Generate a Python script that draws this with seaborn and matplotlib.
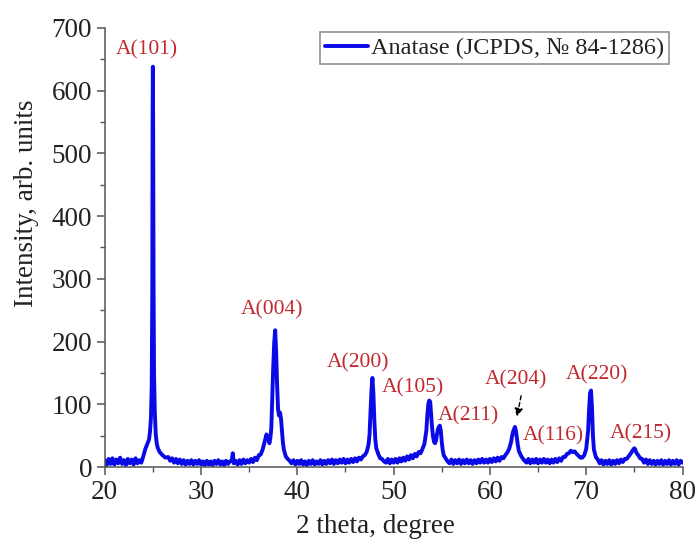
import matplotlib
matplotlib.use("Agg")
import matplotlib.pyplot as plt
from matplotlib.ticker import MultipleLocator
import seaborn as sns
import pandas as pd

# ---- data ----
two_theta = [
    20.0, 20.2, 20.4, 20.6, 20.8, 21.0, 21.2, 21.4, 21.6, 21.8, 22.0, 22.2, 22.4, 22.6, 22.8,
    23.0, 23.2, 23.4, 23.6, 23.8, 24.0, 24.2, 24.4, 24.6, 24.7, 24.8, 24.88, 24.94, 24.97,
    25.0, 25.03, 25.07, 25.12, 25.2, 25.3, 25.4, 25.5, 25.7, 26.0, 26.3, 26.6, 26.8,
    27.0, 27.2, 27.4, 27.6, 27.8, 28.0, 28.2, 28.4, 28.6, 28.8, 29.0, 29.2, 29.4, 29.6, 29.8,
    30.0, 30.2, 30.4, 30.6, 30.8, 31.0, 31.2, 31.4, 31.6, 31.8, 32.0, 32.2, 32.4, 32.6, 32.8,
    33.0, 33.2, 33.3, 33.4, 33.6, 33.8, 34.0, 34.2, 34.4, 34.6, 34.8, 35.0, 35.2, 35.4, 35.6,
    35.8, 36.0, 36.2, 36.4, 36.6, 36.8, 36.9, 37.0, 37.1, 37.2, 37.3, 37.4, 37.5, 37.6, 37.7,
    37.8, 37.9, 38.0, 38.1, 38.2, 38.3, 38.4, 38.5, 38.6, 38.8, 39.0, 39.2, 39.4, 39.6, 39.8,
    40.0, 40.2, 40.4, 40.6, 40.8, 41.0, 41.2, 41.4, 41.6, 41.8, 42.0, 42.2, 42.4, 42.6, 42.8,
    43.0, 43.2, 43.4, 43.6, 43.8, 44.0, 44.2, 44.4, 44.6, 44.8, 45.0, 45.2, 45.4, 45.6, 45.8,
    46.0, 46.2, 46.4, 46.6, 46.8, 47.0, 47.2, 47.4, 47.5, 47.6, 47.7, 47.8, 47.9, 48.0, 48.1,
    48.2, 48.4, 48.6, 48.8, 49.0, 49.2, 49.4, 49.6, 49.8, 50.0, 50.2, 50.4, 50.6, 50.8, 51.0,
    51.2, 51.4, 51.6, 51.8, 52.0, 52.2, 52.4, 52.6, 52.8, 53.0, 53.2, 53.4, 53.5, 53.6, 53.7,
    53.8, 53.9, 54.0, 54.1, 54.2, 54.3, 54.4, 54.5, 54.6, 54.7, 54.8, 54.9, 55.0, 55.1, 55.2,
    55.4, 55.6, 55.8, 56.0, 56.2, 56.4, 56.6, 56.8, 57.0, 57.2, 57.4, 57.6, 57.8, 58.0, 58.2,
    58.4, 58.6, 58.8, 59.0, 59.2, 59.4, 59.6, 59.8, 60.0, 60.2, 60.4, 60.6, 60.8, 61.0, 61.2,
    61.4, 61.6, 61.8, 62.0, 62.2, 62.3, 62.4, 62.5, 62.6, 62.7, 62.8, 62.9, 63.0, 63.2, 63.4,
    63.6, 63.8, 64.0, 64.2, 64.4, 64.6, 64.8, 65.0, 65.2, 65.4, 65.6, 65.8, 66.0, 66.2, 66.4,
    66.6, 66.8, 67.0, 67.2, 67.4, 67.6, 67.8, 68.0, 68.2, 68.4, 68.6, 68.8, 69.0, 69.2, 69.4,
    69.6, 69.8, 70.0, 70.2, 70.3, 70.4, 70.5, 70.6, 70.7, 70.8, 71.0, 71.2, 71.4, 71.6, 71.8,
    72.0, 72.2, 72.4, 72.6, 72.8, 73.0, 73.2, 73.4, 73.6, 73.8, 74.0, 74.2, 74.4, 74.6, 74.8,
    75.0, 75.1, 75.2, 75.4, 75.6, 75.8, 76.0, 76.2, 76.4, 76.6, 76.8, 77.0, 77.2, 77.4, 77.6,
    77.8, 78.0, 78.2, 78.4, 78.6, 78.8, 79.0, 79.2, 79.4, 79.6, 79.8, 80.0,
]
intensity = [
    11, 3, 13, 5, 14, 4, 12, 6, 15, 5, 11, 3, 13, 6, 12,
    4, 14, 6, 11, 7, 17, 28, 36, 44, 56, 78, 130, 280, 545,
    638, 545, 300, 150, 88, 52, 38, 31, 24, 19, 15, 16, 10,
    14, 7, 13, 6, 12, 5, 11, 4, 10, 5, 11, 4, 10, 5, 11,
    4, 9, 3, 10, 4, 9, 3, 10, 5, 11, 4, 9, 3, 10, 5,
    9, 11, 22, 6, 10, 4, 11, 5, 12, 6, 11, 7, 13, 8, 15,
    11, 19, 20, 28, 40, 52, 46, 48, 38, 46, 62, 110, 160, 198, 218,
    185, 132, 92, 82, 87, 78, 60, 40, 28, 17, 13, 10, 6, 11, 4,
    10, 5, 11, 4, 9, 3, 10, 5, 11, 4, 9, 5, 11, 4, 10,
    5, 11, 6, 12, 5, 11, 6, 12, 7, 13, 6, 12, 7, 13, 8,
    14, 9, 15, 12, 17, 19, 24, 36, 52, 86, 122, 142, 118, 74, 44,
    30, 21, 14, 13, 9, 7, 13, 6, 12, 7, 13, 7, 14, 9, 15,
    10, 17, 12, 19, 14, 21, 17, 24, 22, 29, 37, 58, 82, 100, 106,
    104, 84, 62, 48, 40, 38, 42, 52, 60, 64, 66, 58, 40, 27, 19,
    14, 9, 6, 12, 5, 11, 6, 12, 5, 11, 6, 12, 6, 11, 5,
    11, 6, 12, 7, 13, 7, 12, 7, 13, 8, 14, 9, 15, 10, 16,
    14, 19, 23, 29, 40, 49, 56, 60, 64, 58, 46, 35, 26, 19, 14,
    10, 7, 13, 6, 12, 7, 13, 6, 12, 7, 13, 7, 12, 6, 12,
    7, 13, 8, 14, 10, 16, 16, 21, 22, 26, 24, 25, 21, 18, 15,
    15, 19, 29, 58, 92, 118, 122, 95, 50, 28, 16, 12, 6, 11, 4,
    10, 5, 11, 4, 10, 5, 11, 6, 12, 8, 13, 13, 17, 21, 26,
    30, 28, 23, 19, 14, 13, 7, 12, 5, 11, 5, 10, 4, 10, 5,
    11, 4, 10, 5, 11, 4, 10, 5, 11, 4, 10, 7,
]

peak_labels = ["A(101)", "A(004)", "A(200)", "A(105)", "A(211)",
               "A(204)", "A(116)", "A(220)", "A(215)"]
label_x = [24.4, 37.4, 46.3, 52.0, 57.8, 62.7, 66.6, 71.1, 75.7]
label_y = [665, 250, 166, 126, 81, 139, 49, 147, 53]

arrow_from = (63.3, 118)
arrow_to = (62.75, 76)

legend_label = "Anatase (JCPDS, \u2116 84-1286)"
x_label = "2 theta, degree"
y_label = "Intensity, arb. units"

# ---- drawing ----
sns.set_theme(style="ticks")
serif = ["Liberation Serif", "DejaVu Serif"]
plt.rcParams["font.family"] = serif

fig = plt.figure(figsize=(7.0, 5.45), dpi=100)
ax = fig.add_axes([0.1496, 0.143, 0.8254, 0.806])

df = pd.DataFrame({"two_theta": two_theta, "intensity": intensity})
sns.lineplot(data=df, x="two_theta", y="intensity", sort=False, estimator=None,
             color="#0a0ae6", linewidth=2.8, label=legend_label, ax=ax)

ax.set_xlim(20, 80)
ax.set_ylim(0, 700)
ax.xaxis.set_major_locator(MultipleLocator(10))
ax.xaxis.set_minor_locator(MultipleLocator(5))
ax.yaxis.set_major_locator(MultipleLocator(100))
ax.yaxis.set_minor_locator(MultipleLocator(50))

for s in ["top", "right"]:
    ax.spines[s].set_visible(False)
for s in ["left", "bottom"]:
    ax.spines[s].set_color("#555555")
    ax.spines[s].set_linewidth(1.1)

ax.tick_params(axis="both", which="major", length=6, width=1.1, color="#555555",
               labelsize=19.5, labelcolor="#222222", direction="out", pad=3)
ax.tick_params(axis="both", which="minor", length=3.5, width=1.0, color="#555555",
               direction="out")

ax.set_xlabel(x_label, fontsize=19.5, color="#222222")
ax.set_ylabel(y_label, fontsize=19.5, color="#222222")
ax.xaxis.set_label_coords(0.468, -0.135)
ax.yaxis.set_label_coords(-0.135, 0.60)
ax.xaxis.label.set_va("center")
ax.yaxis.label.set_va("center")

for t, xx, yy in zip(peak_labels, label_x, label_y):
    ax.text(xx, yy, t, color="#c0282d", fontsize=15.5, ha="center", va="center")

ax.annotate("", xy=arrow_to, xytext=arrow_from,
            arrowprops=dict(arrowstyle="-|>", color="black", lw=1.0,
                            linestyle=(0, (3, 2)), mutation_scale=12))

leg = ax.legend(loc="upper right", bbox_to_anchor=(0.977, 0.99), fontsize=17.5,
                frameon=True, fancybox=False, handlelength=1.75, handletextpad=0.15,
                borderpad=0.2, borderaxespad=0.0)
leg.get_frame().set_edgecolor("#777777")
leg.get_frame().set_linewidth(1.2)
for txt in leg.get_texts():
    txt.set_color("#222222")

fig.savefig("out.png", dpi=100)
